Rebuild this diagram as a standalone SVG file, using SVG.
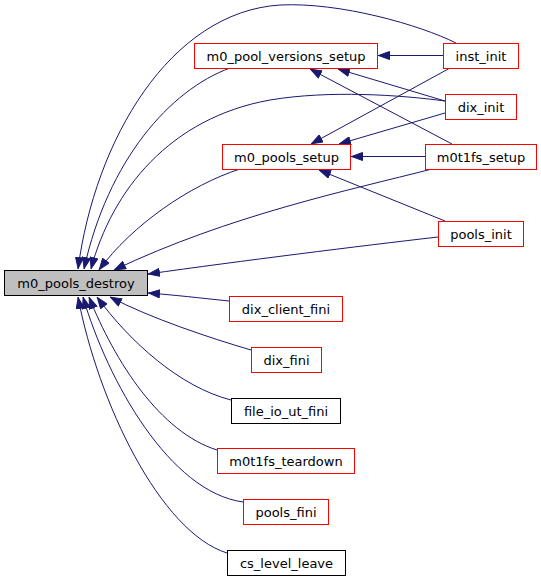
<svg xmlns="http://www.w3.org/2000/svg" width="541" height="581" viewBox="0 0 541 581">
<style>
.n rect{fill:#ffffff;stroke:#ff0000;stroke-width:1}
.n.b rect{stroke:#000000}
.n.m rect{fill:#bfbfbf;stroke:#000000}
.n text{font-family:"DejaVu Sans",sans-serif;font-size:13px;text-anchor:middle;fill:#000000}
#edges path{fill:none;stroke:#191970;stroke-width:1;marker-end:url(#a)}
</style>
<defs>
<marker id="a" markerWidth="12" markerHeight="9" refX="12" refY="4.5" orient="auto" markerUnits="userSpaceOnUse">
<path d="M0.5,0.5 L11.5,4.5 L0.5,8.5 z" fill="#191970" stroke="#191970" stroke-width="1"/>
</marker>
</defs>
<rect width="541" height="581" fill="#ffffff"/>
<g id="edges">
<path d="M456,43 C420,25 340,2 280,5 C170,12 95,140 78,269"/>
<path d="M230,68 C170,90 108,160 84,269"/>
<path d="M445,101 C400,95 330,90 270,100 C170,118 112,190 91,269"/>
<path d="M240,169 C190,185 132,225 99,270"/>
<path d="M432,169 C350,190 230,215 114,270"/>
<path d="M438,237 C360,246 240,261 148,274"/>
<path d="M229,301 C200,298 175,295 148,293"/>
<path d="M251,350 C210,338 150,318 110,297"/>
<path d="M231,400 C180,387 130,342 97,297"/>
<path d="M217,450 C160,432 115,362 89,297"/>
<path d="M243,502 C170,492 108,382 83,297"/>
<path d="M227,553 C160,532 98,402 78,297"/>
<path d="M443,55.5 L378,55.5"/>
<path d="M445,101 L338,69"/>
<path d="M452,144 L310,69"/>
<path d="M450,68 L311,144"/>
<path d="M445,113 L339,144"/>
<path d="M425,156.5 L351,156.5"/>
<path d="M445,221 L319,170"/>
</g>
<g id="m0_pools_destroy" class="n m"><rect x="4.5" y="270.5" width="143" height="25"/><text x="76" y="287.5">m0_pools_destroy</text></g>
<g id="m0_pool_versions_setup" class="n"><rect x="194.5" y="43.5" width="183" height="25"/><text x="286" y="60.5">m0_pool_versions_setup</text></g>
<g id="m0_pools_setup" class="n"><rect x="222.5" y="144.5" width="128" height="25"/><text x="286.5" y="161.5">m0_pools_setup</text></g>
<g id="inst_init" class="n"><rect x="443.5" y="43.5" width="75" height="25"/><text x="481" y="60.5">inst_init</text></g>
<g id="dix_init" class="n"><rect x="445.5" y="94.5" width="71" height="25"/><text x="481" y="111.5">dix_init</text></g>
<g id="m0t1fs_setup" class="n"><rect x="425.5" y="144.5" width="111" height="25"/><text x="481" y="161.5">m0t1fs_setup</text></g>
<g id="pools_init" class="n"><rect x="438.5" y="221.5" width="85" height="25"/><text x="481" y="238.5">pools_init</text></g>
<g id="dix_client_fini" class="n"><rect x="229.5" y="296.5" width="113" height="25"/><text x="286" y="313.5">dix_client_fini</text></g>
<g id="dix_fini" class="n"><rect x="251.5" y="347.5" width="70" height="25"/><text x="286.5" y="364.5">dix_fini</text></g>
<g id="file_io_ut_fini" class="n b"><rect x="231.5" y="398.5" width="109" height="25"/><text x="286" y="415.5">file_io_ut_fini</text></g>
<g id="m0t1fs_teardown" class="n"><rect x="217.5" y="448.5" width="137" height="25"/><text x="286" y="465.5">m0t1fs_teardown</text></g>
<g id="pools_fini" class="n"><rect x="243.5" y="499.5" width="85" height="25"/><text x="286" y="516.5">pools_fini</text></g>
<g id="cs_level_leave" class="n b"><rect x="227.5" y="550.5" width="118" height="25"/><text x="286.5" y="567.5">cs_level_leave</text></g>
</svg>
